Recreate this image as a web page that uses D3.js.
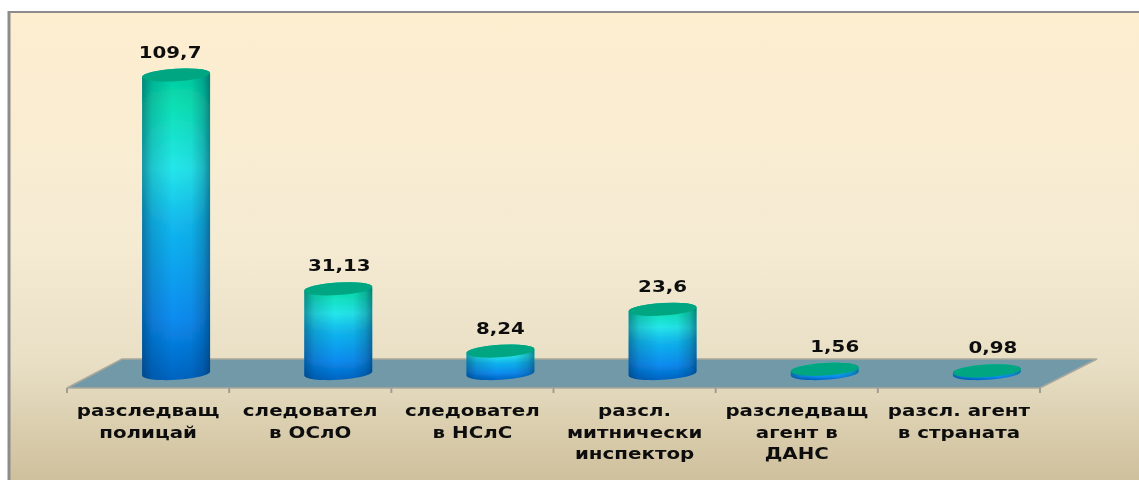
<!DOCTYPE html>
<html><head><meta charset="utf-8">
<script src="https://cdn.jsdelivr.net/npm/d3@7"></script>
<style>html,body{margin:0;padding:0;background:#fff;overflow:hidden}svg{display:block}</style>
</head><body><svg id="c" width="1139" height="480"></svg>
<script>
const categories = [
  ["разследващ","полицай"],
  ["следовател","в ОСлО"],
  ["следовател","в НСлС"],
  ["разсл.","митнически","инспектор"],
  ["разследващ","агент в","ДАНС"],
  ["разсл. агент","в страната"]
];
const values = [109.7, 31.13, 8.24, 23.6, 1.56, 0.98];
const valueLabels = ["109,7","31,13","8,24","23,6","1,56","0,98"];
const labelNudge = [-6, 1, 0, 0, 10, 6];

const W = 1139, H = 480;
const frontY = 388, backY = 359, depth = 56;
const x = d3.scaleBand().domain(d3.range(values.length)).range([67, 1040]).paddingInner(0).paddingOuter(0);
const y = d3.scaleLinear().domain([0, 109.7]).range([373.5, 75]);
const svg = d3.select("#c");
const defs = svg.append("defs");

const bg = defs.append("linearGradient").attr("id","bg").attr("x1",0).attr("y1",0).attr("x2",0).attr("y2",1);
[[0,"#feeed0"],[0.5,"#f5ebd3"],[0.75,"#e8dfc5"],[1,"#cfc09c"]].forEach(s=>bg.append("stop").attr("offset",s[0]).attr("stop-color",s[1]));

const body = defs.append("linearGradient").attr("id","body").attr("x1",0).attr("y1",1).attr("x2",0).attr("y2",0);
[[0,"#0064c0"],[0.2,"#0a8cf0"],[0.5,"#12b8ee"],[0.68,"#25e6ea"],[0.88,"#0ce0b4"],[1,"#00c89c"]].forEach(s=>body.append("stop").attr("offset",s[0]).attr("stop-color",s[1]));

const shade = defs.append("linearGradient").attr("id","shade").attr("x1",0).attr("y1",0).attr("x2",1).attr("y2",0);
[[0,0.42],[0.15,0.16],[0.45,0],[0.72,0.04],[0.9,0.24],[1,0.48]].forEach(s=>shade.append("stop").attr("offset",s[0]).attr("stop-color","#002040").attr("stop-opacity",s[1]));

defs.append("filter").attr("id","soft").attr("x","-5%").attr("y","-5%").attr("width","110%").attr("height","110%")
  .append("feGaussianBlur").attr("stdDeviation",0.45);
defs.append("filter").attr("id","softm").attr("x","-10%").attr("y","-10%").attr("width","120%").attr("height","120%")
  .append("feGaussianBlur").attr("stdDeviation",0.4);

// frame
svg.append("rect").attr("x",9).attr("y",12).attr("width",W-9).attr("height",H-12).attr("fill","url(#bg)");
svg.append("line").attr("x1",9).attr("x2",9).attr("y1",11).attr("y2",H).attr("stroke","#8c8c8c").attr("stroke-width",3);
svg.append("line").attr("x1",8).attr("x2",W).attr("y1",12).attr("y2",12).attr("stroke","#8c8c8c").attr("stroke-width",2);

// floor
const x0 = x.range()[0], x1 = x.range()[1];
const g = svg.append("g").attr("filter","url(#softm)");
g.append("path").attr("d",`M${x0},${frontY}L${x1},${frontY}L${x1+depth+1},${backY}L${x0+55},${backY}Z`)
  .attr("fill","#7299a8").attr("stroke","#aaa89c").attr("stroke-width",1.6);
d3.range(values.length+1).forEach(i=>{
  const tx = x0 + i*x.step();
  g.append("line").attr("x1",tx).attr("x2",tx).attr("y1",frontY).attr("y2",frontY+5).attr("stroke","#a09e94").attr("stroke-width",2);
});

// cylinders
const rx = 34, ry = 6.3, tilt = -3.5;
const slope = Math.tan(tilt*Math.PI/180)*rx;
const cx = i => x(i)+x.bandwidth()/2+28;
const cyl = (d,i) => {
  const c=cx(i),l=c-rx,r=c+rx,b=y(0),t=y(d);
  return `M${l},${t-slope}L${l},${b-slope}A${rx},${ry} ${tilt} 0 0 ${r},${b+slope}L${r},${t+slope}A${rx},${ry} ${tilt} 0 0 ${l},${t-slope}Z`;
};
const bars = g.selectAll("g.bar").data(values).join("g").attr("class","bar");
bars.append("path").attr("d",cyl).attr("fill","url(#body)");
bars.append("path").attr("d",cyl).attr("fill","url(#shade)");
bars.append("ellipse").attr("cx",0).attr("cy",0).attr("rx",rx).attr("ry",ry)
  .attr("transform",(d,i)=>`translate(${cx(i)},${y(d)}) rotate(${tilt})`)
  .attr("fill","#02a682");

// text
const font = "'DejaVu Sans',sans-serif";
const stretch = 1.24;
const t = svg.append("g").attr("filter","url(#soft)").attr("font-family",font).attr("font-weight",700).attr("fill","#111").attr("text-anchor","middle");
t.selectAll("text.v").data(values).join("text").attr("class","v")
  .attr("transform",(d,i)=>`translate(${cx(i)+labelNudge[i]},${y(d)-17.5}) scale(${stretch},1)`)
  .attr("font-size",16).text((d,i)=>valueLabels[i]);
categories.forEach((lines,i)=>{
  lines.forEach((s,j)=>{
    t.append("text").attr("transform",`translate(${x(i)+x.bandwidth()/2},${416+j*21.6}) scale(${stretch},1)`).attr("font-size",16).text(s);
  });
});
</script></body></html>
